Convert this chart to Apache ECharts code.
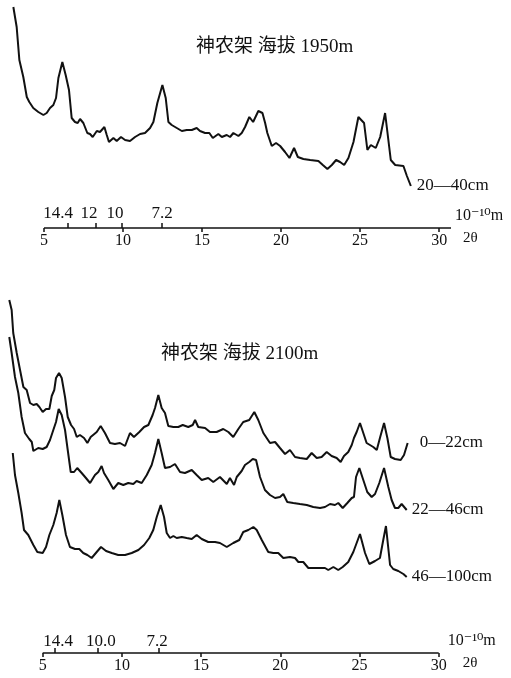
<!DOCTYPE html>
<html>
<head>
<meta charset="utf-8">
<script src="https://cdn.jsdelivr.net/npm/echarts@6/dist/echarts.min.js"></script>
<style>html,body{margin:0;padding:0;background:#fff}#c{width:511px;height:678px}</style>
</head>
<body>
<div id="c"></div>
<script>
// ---- Data (2θ in degrees, intensity in arbitrary units) ----
var titleTop = '神农架 海拔 1950m';
var titleBottom = '神农架 海拔 2100m';
var twoThetaTicks = [5, 10, 15, 20, 25, 30];
var axisSpanTop = [5, 30.75];
var axisSpanBottom = [5, 30];
var dLabelsTop = ['14.4', '12', '10', '7.2'];
var dTickPosTop = [6.52, 8.29, 9.94, 12.47];
var dLabelPosTop = [5.89, 7.85, 9.49, 12.47];
var dLabelsBottom = ['14.4', '10.0', '7.2'];
var dTickPosBottom = [5.78, 8.47, 12.32];
var dLabelPosBottom = [5.97, 8.68, 12.22];
var dUnit = '10\u207B\u00B9\u2070m';
var twoThetaName = '2\u03B8';

var s20_40 = [[3.06,221],[3.27,201],[3.44,168],[3.69,151],[3.91,131],[4.07,126],[4.32,120],[4.64,116],[4.96,113],[5.17,115],[5.38,120],[5.59,123],[5.76,130],[5.91,150],[6.16,166],[6.37,153],[6.58,138],[6.75,110],[6.96,106],[7.13,105],[7.28,109],[7.49,105],[7.74,95],[7.91,94],[8.08,91],[8.34,97],[8.54,96],[8.82,101],[8.97,93],[9.11,86],[9.39,90],[9.60,87],[9.87,91],[10.13,88],[10.44,87],[10.76,91],[11.08,94],[11.39,95],[11.71,100],[11.92,106],[12.17,125],[12.49,143],[12.70,130],[12.87,106],[13.08,103],[13.40,100],[13.72,97],[14.03,98],[14.35,98],[14.66,100],[14.87,97],[15.19,95],[15.46,95],[15.68,90],[16.03,94],[16.25,91],[16.56,93],[16.77,91],[16.98,95],[17.30,92],[17.51,95],[17.72,101],[17.99,111],[18.23,106],[18.56,117],[18.82,115],[18.99,105],[19.13,95],[19.41,82],[19.68,85],[19.94,82],[20.25,76],[20.53,70],[20.82,80],[21.06,71],[21.41,69],[21.84,68],[22.36,67],[22.64,63],[22.93,59],[23.21,63],[23.48,68],[23.73,66],[23.99,63],[24.26,70],[24.58,86],[24.89,111],[25.25,105],[25.46,78],[25.68,83],[25.99,80],[26.27,91],[26.58,115],[26.94,68],[27.22,63],[27.74,62],[27.96,52],[28.21,42]];

var s0_22 = [[2.89,353],[3.04,343],[3.14,320],[3.36,300],[3.57,283],[3.78,266],[3.99,263],[4.20,250],[4.41,248],[4.62,249],[4.79,246],[5.00,241],[5.21,244],[5.42,244],[5.57,257],[5.73,263],[5.84,275],[6.03,280],[6.20,275],[6.41,256],[6.58,236],[6.79,228],[6.98,224],[7.15,216],[7.35,218],[7.61,215],[7.82,210],[8.03,216],[8.41,221],[8.66,227],[8.93,220],[9.25,210],[9.56,209],[9.88,210],[10.20,207],[10.51,220],[10.76,216],[11.10,221],[11.40,226],[11.67,228],[11.94,238],[12.09,245],[12.30,258],[12.51,245],[12.72,240],[12.93,227],[13.25,226],[13.56,226],[13.84,228],[14.19,226],[14.47,228],[14.62,233],[14.82,226],[15.25,225],[15.56,221],[15.98,221],[16.40,224],[16.72,221],[17.03,216],[17.35,224],[17.66,231],[18.04,233],[18.36,241],[18.61,233],[18.93,220],[19.35,210],[19.67,211],[19.98,205],[20.30,199],[20.61,203],[20.93,196],[21.24,195],[21.67,194],[21.98,200],[22.30,195],[22.61,196],[22.93,201],[23.24,197],[23.56,195],[23.81,191],[24.02,197],[24.29,201],[24.51,208],[24.65,215],[24.82,221],[25.03,230],[25.24,220],[25.45,210],[25.66,208],[25.87,206],[26.09,203],[26.29,215],[26.55,230],[26.76,215],[26.97,196],[27.24,194],[27.60,193],[27.81,198],[28.04,210]];

var s22_46 = [[2.89,316],[3.04,300],[3.25,276],[3.46,260],[3.67,236],[3.88,220],[4.15,214],[4.31,211],[4.41,202],[4.72,205],[5.00,204],[5.25,206],[5.46,213],[5.67,223],[5.84,231],[6.01,244],[6.20,238],[6.41,223],[6.58,203],[6.77,181],[6.98,181],[7.18,185],[7.46,180],[7.73,175],[7.99,170],[8.30,178],[8.51,181],[8.72,187],[8.87,180],[9.14,173],[9.46,164],[9.77,170],[10.09,168],[10.40,170],[10.72,169],[10.93,172],[11.25,170],[11.57,178],[11.88,188],[12.09,200],[12.30,214],[12.51,200],[12.72,185],[13.04,186],[13.35,189],[13.67,181],[13.98,180],[14.41,183],[14.72,178],[15.04,173],[15.45,175],[15.77,171],[16.19,176],[16.62,169],[16.82,175],[17.08,168],[17.25,176],[17.56,182],[17.77,188],[18.04,191],[18.26,194],[18.47,193],[18.72,176],[19.03,163],[19.35,158],[19.67,155],[19.98,156],[20.19,159],[20.44,151],[20.82,150],[21.24,149],[21.67,148],[22.08,146],[22.51,145],[22.82,146],[23.14,149],[23.45,148],[23.66,150],[23.94,145],[24.23,150],[24.51,155],[24.65,156],[24.78,176],[24.99,185],[25.24,173],[25.49,161],[25.77,156],[25.98,159],[26.25,170],[26.55,185],[26.82,166],[27.03,153],[27.24,145],[27.45,145],[27.66,149],[27.98,143]];

var s46_100 = [[3.11,200],[3.25,178],[3.46,160],[3.67,140],[3.82,123],[4.09,118],[4.41,108],[4.66,101],[5.00,100],[5.21,106],[5.42,118],[5.67,128],[5.88,140],[6.05,153],[6.24,138],[6.47,118],[6.72,106],[7.04,104],[7.31,104],[7.56,100],[7.82,98],[8.09,95],[8.41,101],[8.68,106],[9.00,102],[9.36,100],[9.77,98],[10.20,98],[10.62,100],[11.04,103],[11.40,108],[11.73,115],[11.98,123],[12.20,136],[12.45,148],[12.66,136],[12.83,120],[13.04,115],[13.25,117],[13.46,115],[13.78,116],[14.09,115],[14.41,114],[14.72,118],[15.04,114],[15.45,111],[15.88,111],[16.19,110],[16.62,106],[17.03,110],[17.41,113],[17.66,121],[17.98,123],[18.30,126],[18.51,123],[18.83,113],[19.24,101],[19.56,100],[19.87,100],[20.19,95],[20.61,96],[20.93,95],[21.14,91],[21.45,91],[21.77,85],[22.30,85],[22.82,85],[23.03,83],[23.35,86],[23.66,83],[23.94,86],[24.29,91],[24.61,101],[25.03,119],[25.35,100],[25.62,89],[25.98,92],[26.29,95],[26.50,113],[26.67,127],[26.93,88],[27.13,84],[27.45,82],[27.77,79],[27.98,76]];

// ---- Chart ----
var SERIF = '"Liberation Serif", "DejaVu Serif", "Noto Sans CJK SC", serif';
var INK = '#111';
var XMIN = 2.5;
var chart = echarts.init(document.getElementById('c'), null, {renderer: 'canvas'});

function mainAxis(grid, max, nameGap) {
  return {
    type: 'value', gridIndex: grid, min: XMIN, max: max, position: 'bottom',
    axisLine: {show: false},
    axisTick: {show: true, customValues: twoThetaTicks, length: 4, inside: false, lineStyle: {color: INK, width: 1.5}},
    axisLabel: {show: true, customValues: twoThetaTicks, margin: 5, color: INK, fontFamily: SERIF, fontSize: 16},
    splitLine: {show: false},
    name: twoThetaName, nameLocation: 'end', nameGap: nameGap,
    nameTextStyle: {color: INK, fontFamily: SERIF, fontSize: 15, verticalAlign: 'top', padding: [3, 0, 0, 0]}
  };
}
function dAxis(grid, max, tickPos, labelPos, labels, nameGap, margin) {
  return {
    type: 'value', gridIndex: grid, min: XMIN, max: max, position: 'bottom',
    axisLine: {show: false},
    axisTick: {show: true, customValues: tickPos, inside: true, length: 5, lineStyle: {color: INK, width: 1.5}},
    axisLabel: {show: true, customValues: labelPos, inside: true, margin: margin, color: INK, fontFamily: SERIF, fontSize: 17,
      formatter: function (v) {
        var k = -1;
        for (var j = 0; j < labelPos.length; j++) { if (Math.abs(labelPos[j] - v) < 1e-6) { k = j; } }
        return k >= 0 ? labels[k] : '';
      }},
    splitLine: {show: false},
    name: dUnit, nameLocation: 'end', nameGap: nameGap,
    nameTextStyle: {color: INK, fontFamily: SERIF, fontSize: 16, verticalAlign: 'bottom', padding: [0, 0, 4, 0]}
  };
}
function trace(name, data, xi, yi, dist) {
  return {
    type: 'line', name: name, data: data, xAxisIndex: xi, yAxisIndex: yi,
    showSymbol: false, symbol: 'none', clip: false, smooth: false, silent: true,
    lineStyle: {color: INK, width: 2}, animation: false,
    endLabel: {show: true, formatter: name, distance: dist, color: INK, fontFamily: SERIF, fontSize: 17}
  };
}
function baseline(span, xi, yi) {
  return {
    type: 'line', name: 'axis', data: [[span[0], 0], [span[1], 0]], xAxisIndex: xi, yAxisIndex: yi,
    showSymbol: false, symbol: 'none', clip: false, silent: true, animation: false,
    lineStyle: {color: INK, width: 1.6}
  };
}

chart.setOption({
  animation: false,
  backgroundColor: '#fff',
  title: [
    {text: titleTop, left: 191, top: 33, textStyle: {color: INK, fontFamily: SERIF, fontSize: 19, fontWeight: 'normal'}},
    {text: titleBottom, left: 156, top: 340, textStyle: {color: INK, fontFamily: SERIF, fontSize: 19, fontWeight: 'normal'}}
  ],
  grid: [
    {left: 4.5, right: 60, top: 0, bottom: 450},
    {left: 3.1, right: 72.3, top: 253, bottom: 25}
  ],
  xAxis: [
    mainAxis(0, 30.75, 12),
    dAxis(0, 30.75, dTickPosTop, dLabelPosTop, dLabelsTop, 4, 6),
    mainAxis(1, 30, 24),
    dAxis(1, 30, dTickPosBottom, dLabelPosBottom, dLabelsBottom, 9, 3)
  ],
  yAxis: [
    {type: 'value', gridIndex: 0, min: 0, max: 228, show: false},
    {type: 'value', gridIndex: 1, min: 0, max: 400, show: false}
  ],
  series: [
    baseline(axisSpanTop, 0, 0),
    baseline(axisSpanBottom, 2, 1),
    trace('20\u201440cm', s20_40, 0, 0, 6),
    trace('0\u201422cm', s0_22, 2, 1, 12),
    trace('22\u201446cm', s22_46, 2, 1, 5),
    trace('46\u2014100cm', s46_100, 2, 1, 5)
  ]
});
</script>
</body>
</html>
